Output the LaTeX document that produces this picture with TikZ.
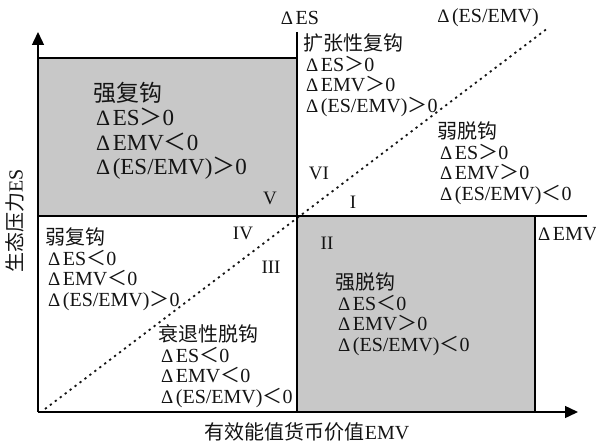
\documentclass[tikz,border=0pt]{standalone}
\usepackage{fontspec}
\setmainfont{Liberation Serif}
\newfontfamily\cjk{Noto Sans CJK SC}
\usetikzlibrary{arrows.meta}
\definecolor{boxgray}{RGB}{200,200,200}
\definecolor{ink}{RGB}{20,20,20}
\newcommand\Dl{{\scalebox{0.95}{Δ}}\hspace{2.5pt}}
\newcommand\GT{{\cjk ＞}}
\newcommand\LT{{\cjk ＜}}
\newcommand\ind{\hspace*{3pt}}
\begin{document}
\begin{tikzpicture}[x=1pt,y=-1pt,
  txt/.style={inner sep=0pt, font=\fontsize{20}{20.5}\selectfont, text=ink},
  blk/.style={txt, align=left, anchor=west},
  num/.style={inner sep=0pt, font=\fontsize{19}{19}\selectfont, text=ink},
  axisline/.style={line width=1.4pt, -{Triangle[length=13pt,width=12pt]}},
  edge/.style={line width=1.2pt},
  diag/.style={line width=1.8pt, dash pattern=on 2.2pt off 4pt, ink}]
\useasboundingbox (0,0) rectangle (596,443);
\coordinate (O) at (38,412);
\coordinate (Ytop) at (38,32);
\coordinate (Xend) at (578,412);
\coordinate (Vtop) at (297,32);
\coordinate (Vbot) at (297,412);
\coordinate (Hleft) at (38,216);
\coordinate (Hright) at (587,216);
\coordinate (D1) at (45,409);
\coordinate (D2) at (548,28);
% grey quadrants
\draw[edge, fill=boxgray] (38,58) rectangle (297,216);
\draw[edge, fill=boxgray] (297,216) rectangle (535,412);
% diagonal
\draw[diag] (D1) -- (D2);
% cross lines
\draw[edge] (Vtop) -- (Vbot);
\draw[edge] (Hleft) -- (Hright);
% axes
\draw[axisline] (O) -- (Ytop);
\draw[axisline] (O) -- (Xend);
% axis labels
\node[txt] (dES) at (300,18) {\Dl ES};
\node[txt] (dR) at (488,18) {\Dl (ES/EMV)};
\node[txt, anchor=west] (dEMV) at (538,234) {\Dl EMV};
\node[txt] (xl) at (307,432) {{\cjk 有效能值货币价值}EMV};
\node[txt, rotate=90] (yl) at (15,221) {{\cjk 生态压力}ES};
% roman numerals
\node[num] (r6) at (319,173) {VI};
\node[num] (r1) at (353,202) {I};
\node[num] (r5) at (270,198) {V};
\node[num] (r4) at (243,233) {IV};
\node[num] (r3) at (271,267) {III};
\node[num] (r2) at (327,243) {II};
% blocks
\node[blk, font=\fontsize{23}{24.5}\selectfont] (qfg) at (93,131)
  {{\cjk 强复钩}\\\ind\Dl ES\GT 0\\\ind\Dl EMV\LT 0\\\ind\Dl (ES/EMV)\GT 0};
\node[blk] (kzx) at (303,75)
  {{\cjk 扩张性复钩}\\\ind\Dl ES\GT 0\\\ind\Dl EMV\GT 0\\\ind\Dl (ES/EMV)\GT 0};
\node[blk] (rtg) at (437,163)
  {{\cjk 弱脱钩}\\\ind\Dl ES\GT 0\\\ind\Dl EMV\GT 0\\\ind\Dl (ES/EMV)\LT 0};
\node[blk] (rfg) at (45,269)
  {{\cjk 弱复钩}\\\ind\Dl ES\LT 0\\\ind\Dl EMV\LT 0\\\ind\Dl (ES/EMV)\GT 0};
\node[blk] (sts) at (158,366)
  {{\cjk 衰退性脱钩}\\\ind\Dl ES\LT 0\\\ind\Dl EMV\LT 0\\\ind\Dl (ES/EMV)\LT 0};
\node[blk] (qtg) at (335,314)
  {{\cjk 强脱钩}\\\ind\Dl ES\LT 0\\\ind\Dl EMV\GT 0\\\ind\Dl (ES/EMV)\LT 0};
\end{tikzpicture}
\end{document}
